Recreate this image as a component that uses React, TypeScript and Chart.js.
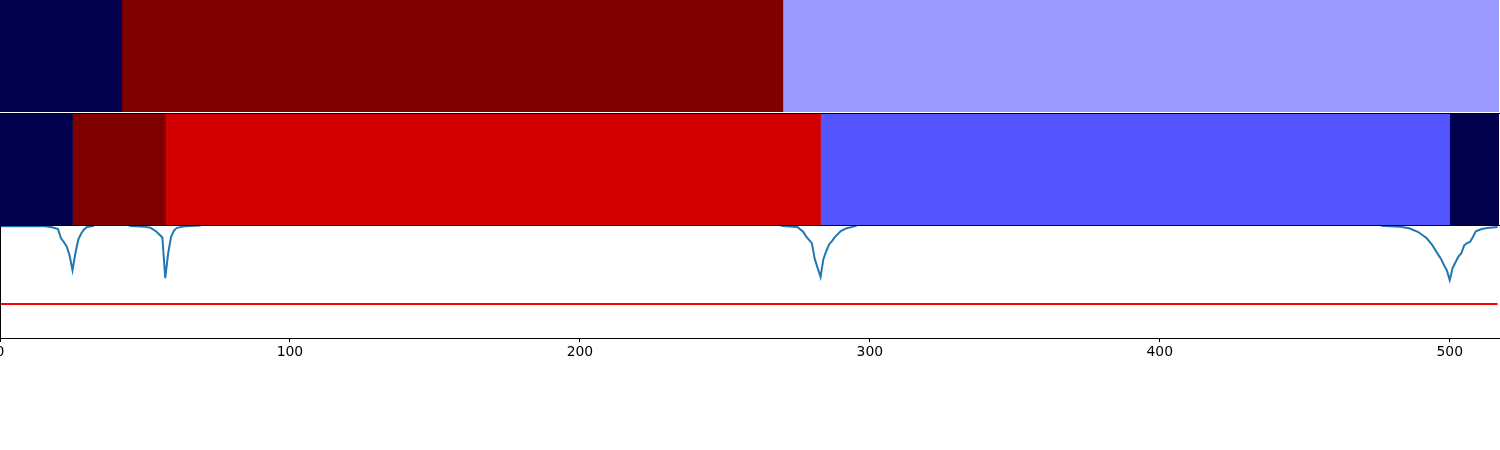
import React, { useEffect, useRef } from 'react';
import { Chart, registerables } from 'chart.js';

Chart.register(...registerables);

// ---------------- data ----------------
const X_MAX = 517;
const xTicks = [0, 100, 200, 300, 400, 500];

// top strip: segment boundaries and colours
const topBounds = [0, 42, 270, 517];
const topColors = ['#00004c', '#800000', '#9999ff'];

// middle strip: segment boundaries and colours
const midBounds = [0, 25, 57, 283, 500, 517];
const midColors = ['#00004c', '#800000', '#d20000', '#5555ff', '#00004c'];

// bottom panel: curve
const lineX = [
  0, 15, 18, 20, 21, 22, 23, 24, 25, 26, 27, 28, 29, 30, 32, 34, 43, 45, 50, 52, 54, 56, 57, 58, 59, 60, 61, 64, 69, 72,
  266, 270, 275, 277, 278, 280, 281, 283, 284, 285, 286, 287, 288, 290, 292, 295, 298,
  473, 477, 483, 486, 489, 492, 494, 495, 497, 498, 499, 500, 501, 502, 503, 504, 505, 506, 507, 508, 509, 511, 513, 516.5,
];
const lineY = [
  0.99, 0.99, 0.98, 0.965, 0.885, 0.85, 0.81, 0.73, 0.6, 0.75, 0.87, 0.925, 0.96, 0.982, 0.99, 1.02, 1.02, 0.99, 0.985, 0.975, 0.94, 0.89, 0.53, 0.75, 0.895, 0.95, 0.975, 0.99, 0.995, 1.03,
  1.03, 0.99, 0.982, 0.94, 0.9, 0.84, 0.7, 0.54, 0.7, 0.77, 0.83, 0.86, 0.895, 0.947, 0.972, 0.99, 1.03,
  1.03, 0.99, 0.985, 0.971, 0.94, 0.885, 0.823, 0.78, 0.7, 0.646, 0.6, 0.513, 0.619, 0.67, 0.72, 0.75, 0.82, 0.84, 0.85, 0.894, 0.945, 0.965, 0.973, 0.982,
];

// bottom panel: threshold line
const thresholdX = [0, 516.5];
const thresholdY = [0.3, 0.3];

// ---------------- layout ----------------
const CANVAS_W = 1600;
const PAD_L = 50;
const PAD_R = 51;

Chart.defaults.font.family = "'DejaVu Sans'";

const topBorderAxis = {
  type: 'linear',
  position: 'top',
  min: 0,
  max: X_MAX,
  display: true,
  ticks: { display: false },
  grid: { display: false },
  border: { display: true, color: '#000', width: 1, z: 1 },
  afterFit: (s: any) => {
    s.height = 0;
  },
};

function baseOptions() {
  return {
    animation: false,
    responsive: false,
    maintainAspectRatio: false,
    events: [],
    plugins: { legend: { display: false }, tooltip: { enabled: false }, title: { display: false } },
    layout: { padding: { left: PAD_L, right: PAD_R, top: 0, bottom: 0 } },
  };
}

function segmentConfig(bounds: number[], colors: string[], withBorder: boolean): any {
  const datasets = colors.map((c, i) => ({
    type: 'bar',
    data: [[bounds[i], bounds[i + 1]]],
    backgroundColor: c,
    borderWidth: 0,
    barPercentage: 1,
    categoryPercentage: 1,
    grouped: false,
  }));
  const scales: any = {
    x: { type: 'linear', min: 0, max: X_MAX, display: false },
    y: { type: 'category', display: false },
  };
  if (withBorder) scales.xTop = topBorderAxis;
  return {
    type: 'bar',
    data: { labels: ['row'], datasets },
    options: { ...baseOptions(), indexAxis: 'y', scales },
  };
}

function lineConfig(): any {
  return {
    type: 'line',
    data: {
      datasets: [
        {
          data: lineX.map((x, i) => ({ x, y: lineY[i] })),
          borderColor: '#1f77b4',
          borderWidth: 2,
          pointRadius: 0,
          tension: 0,
          fill: false,
          clip: 0,
        },
        {
          data: thresholdX.map((x, i) => ({ x, y: thresholdY[i] })),
          borderColor: '#ff0000',
          borderWidth: 2,
          pointRadius: 0,
          tension: 0,
          fill: false,
          clip: 0,
        },
      ],
    },
    options: {
      ...baseOptions(),
      scales: {
        x: {
          type: 'linear',
          position: 'bottom',
          min: 0,
          max: X_MAX,
          afterBuildTicks: (s: any) => {
            s.ticks = xTicks.map((v) => ({ value: v }));
          },
          ticks: {
            color: '#000',
            font: { size: 13.9, family: "'DejaVu Sans'" },
            padding: 2,
            maxRotation: 0,
            autoSkip: false,
            callback: (v: any) => String(v),
          },
          grid: { drawOnChartArea: false, drawTicks: true, tickLength: 4, color: '#000', lineWidth: 1 },
          border: { display: true, color: '#000', width: 1, z: 1 },
          afterFit: (s: any) => {
            s.height = 112;
          },
        },
        xTop: topBorderAxis,
        y: {
          type: 'linear',
          min: 0,
          max: 1,
          display: true,
          ticks: { display: false },
          grid: { display: false },
          border: { display: true, color: '#000', width: 1, z: 1 },
          afterFit: (s: any) => {
            s.width = 0;
          },
        },
      },
    },
  };
}

function ChartCanvas({ top, height, config }: { top: number; height: number; config: () => any }) {
  const ref = useRef<HTMLCanvasElement | null>(null);
  useEffect(() => {
    if (!ref.current) return;
    const chart = new Chart(ref.current, config());
    return () => chart.destroy();
  }, []);
  return (
    <canvas
      ref={ref}
      width={CANVAS_W}
      height={height}
      style={{ position: 'absolute', left: -PAD_L, top, width: CANVAS_W, height, display: 'block' }}
    />
  );
}

export default function App() {
  return (
    <div
      style={{
        position: 'absolute',
        left: 0,
        top: 0,
        width: 1500,
        height: 450,
        overflow: 'hidden',
        background: '#ffffff',
      }}
    >
      <ChartCanvas top={0} height={112} config={() => segmentConfig(topBounds, topColors, false)} />
      <ChartCanvas top={113} height={112} config={() => segmentConfig(midBounds, midColors, true)} />
      <ChartCanvas top={225} height={225} config={lineConfig} />
    </div>
  );
}
